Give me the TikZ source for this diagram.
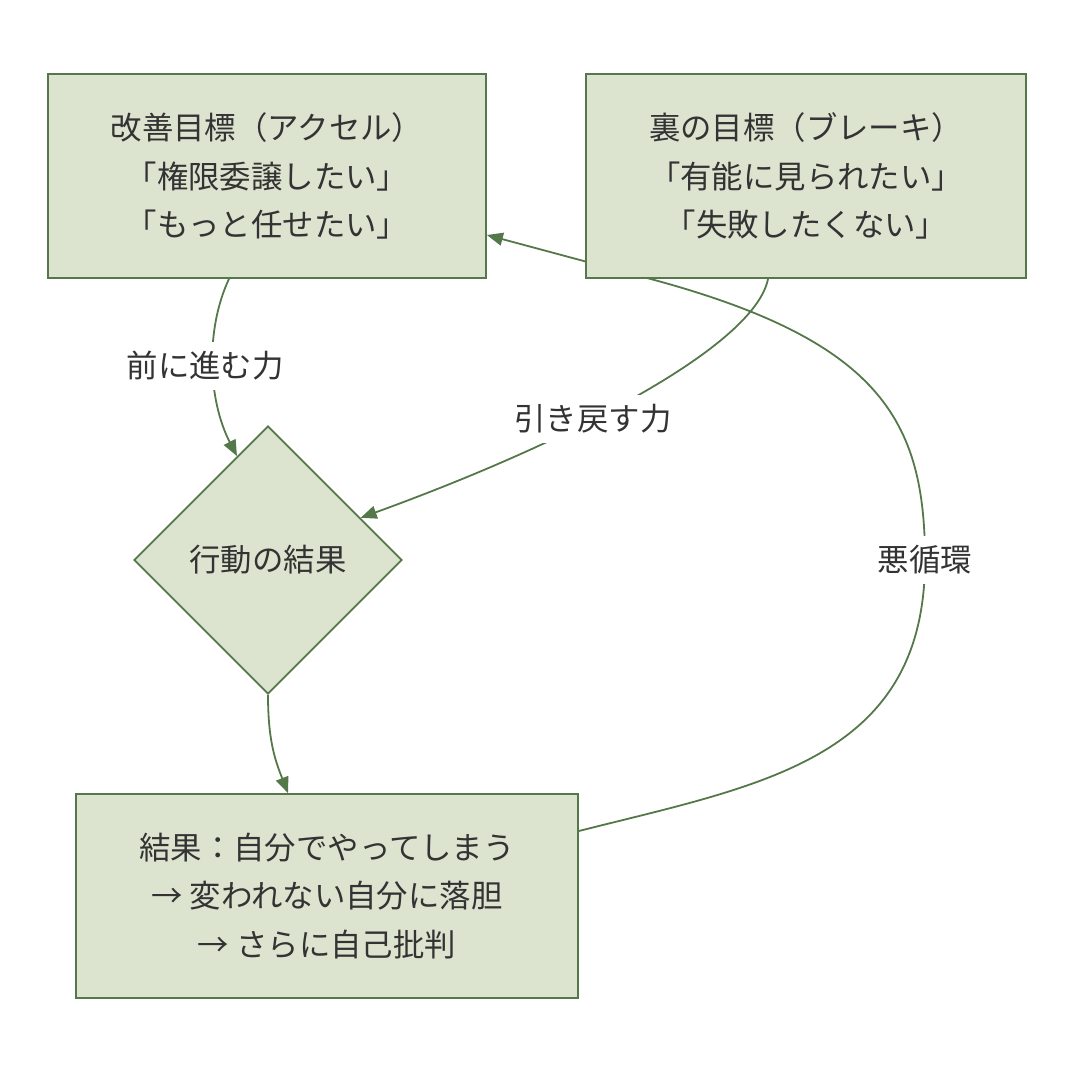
\documentclass[tikz,border=0pt]{standalone}
\usepackage{fontspec}
\setmainfont{Noto Sans CJK JP}
\usetikzlibrary{shapes.geometric,arrows.meta,calc,backgrounds}
\definecolor{boxfill}{HTML}{DCE4D0}
\definecolor{edgec}{HTML}{55784A}
\definecolor{txt}{HTML}{333333}
\begin{document}
\begin{tikzpicture}[x=1pt,y=-1pt,
  jp/.style={font=\fontsize{31.4pt}{48.5pt}\selectfont, text=txt},
  box/.style={jp, draw=edgec, fill=boxfill, line width=1.8pt, minimum height=204pt, align=center, inner sep=0pt},
  dia/.style={jp, draw=edgec, fill=boxfill, line width=1.8pt, shape=diamond, minimum width=268pt, minimum height=268pt, inner sep=0pt},
  edge/.style={draw=edgec, line width=1.8pt, -{Triangle[length=16pt,width=13pt]}},
  lbl/.style={jp, fill=white, minimum height=48pt, inner xsep=2pt, inner ysep=0pt}]
\useasboundingbox (0,0) rectangle (1074,1076);
\node[box, minimum width=438pt] (A) at (267,176) {改善目標（アクセル）\\「権限委譲したい」\\「もっと任せたい」};
\node[box, minimum width=440pt] (B) at (806,176) {裏の目標（ブレーキ）\\「有能に見られたい」\\「失敗したくない」};
\node[dia] (D) at (268,560) {行動の結果};
\node[box, minimum width=502pt] (C) at (327,896) {結果：自分でやってしまう\\→ 変われない自分に落胆\\→ さらに自己批判};
\draw[edge] ([xshift=-38pt]A.south) .. controls (205,330) and (208,400) .. node[lbl, pos=0.5, xshift=-8pt]{前に進む力} ($(D.north)!0.23!(D.west)$);
\draw[edge] ([xshift=-38pt]B.south) .. controls (755,345) and (575,440) .. node[lbl, pos=0.6]{引き戻す力} ($(D.north)!0.687!(D.east)$);
\draw[edge] (D.south) .. controls (268,740) and (275,760) .. ([xshift=-39pt]C.north);
\begin{pgfonlayer}{background}
\draw[edge] ([yshift=65pt]C.east) .. controls (760,785) and (925,760) .. (925,560) node[lbl]{悪循環} .. controls (925,420) and (880,340) .. (647,278) -- ([yshift=-59pt]A.east);
\end{pgfonlayer}
\end{tikzpicture}
\end{document}
